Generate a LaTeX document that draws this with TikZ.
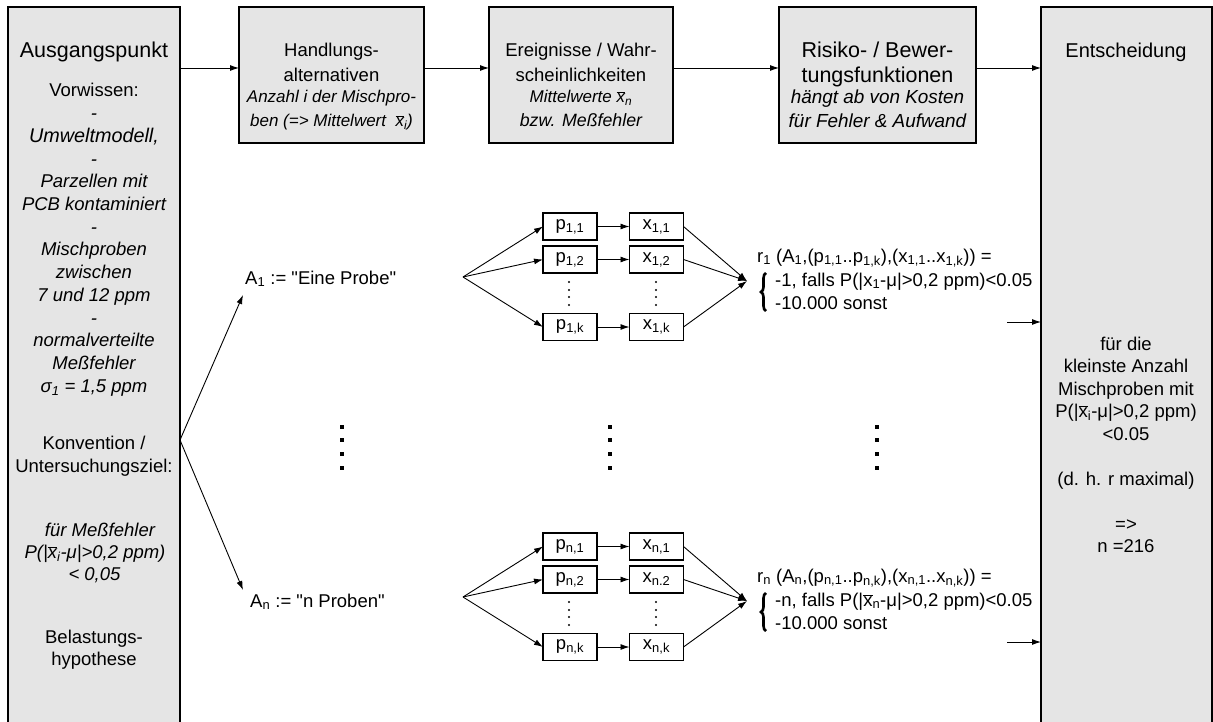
\documentclass[tikz,border=0pt]{standalone}
\usepackage{fontspec}
\setmainfont{Liberation Sans}
\newfontfamily\plainfont{Liberation Sans}
\usetikzlibrary{arrows.meta,decorations.pathreplacing}
\newcommand\xbar{$\overline{\mbox{x}}$}
\newcommand\sbs[1]{\textsubscript{#1}}
\newcommand\qq{{\plainfont"}}
\begin{document}
\begin{tikzpicture}[x=1pt,y=-1pt,
  stage/.style={draw, line width=1.3pt, fill=gray!20, inner sep=0pt, outer sep=0pt, anchor=north west},
  cell/.style={draw, line width=1.4pt, fill=white, minimum width=54pt, minimum height=27pt,
               inner sep=0pt, outer sep=0pt, font=\fontsize{18.5}{20}\selectfont},
  txt/.style={inner sep=0pt, anchor=base, font=\fontsize{18.5}{22}\selectfont},
  itx/.style={txt, font=\fontsize{18.5}{22}\selectfont\itshape},
  subtx/.style={txt, font=\fontsize{17}{20}\selectfont\itshape},
  bigtx/.style={txt, font=\fontsize{21.5}{24}\selectfont},
  bigsub/.style={txt, font=\fontsize{18.9}{22}\selectfont\itshape},
  ltx/.style={txt, anchor=base west},
  arr/.style={-{Latex[length=9pt,width=6pt]}, line width=0.9pt}
]
\useasboundingbox (0,0) rectangle (1213,722);

% stage boxes
\node[stage, minimum width=172, minimum height=730] (start) at (8,7) {};
\node[stage, minimum width=185, minimum height=136] (act) at (239,7) {};
\node[stage, minimum width=184, minimum height=136] (evt) at (489,7) {};
\node[stage, minimum width=197, minimum height=136] (risk) at (779,7) {};
\node[stage, minimum width=171, minimum height=730] (dec) at (1041,7) {};

% chain of stages
\coordinate (lvl) at (0,68);
\draw[arr] (start.east |- lvl) -- (act.west |- lvl);
\draw[arr] (act.east |- lvl) -- (evt.west |- lvl);
\draw[arr] (evt.east |- lvl) -- (risk.west |- lvl);
\draw[arr] (risk.east |- lvl) -- (dec.west |- lvl);

% starting point
\node[bigtx] (k0) at (94,58) {Ausgangspunkt};
\node[txt] (k1) at (94,97) {Vorwissen:};
\node[itx] (k2) at (94,119.7) {-};
\node[itx, font=\fontsize{19.8}{22}\selectfont\itshape] (k3) at (94,142.6) {Umweltmodell,};
\node[itx] (k4) at (94,165.1) {-};
\node[itx] (k5) at (94,187.8) {Parzellen mit};
\node[itx] (k6) at (94,210.5) {PCB kontaminiert};
\node[itx] (k7) at (94,233.2) {-};
\node[itx] (k8) at (94,255.9) {Mischproben};
\node[itx] (k9) at (94,278.6) {zwischen};
\node[itx] (k10) at (94,301.3) {7 und 12 ppm};
\node[itx] (k11) at (94,324) {-};
\node[itx] (k12) at (94,346.7) {normalverteilte};
\node[itx] (k13) at (94,369.4) {Meßfehler};
\node[itx] (k14) at (94,392.1) {σ\sbs{1} = 1,5 ppm};
\node[txt] (k15) at (94,449) {Konvention /};
\node[txt] (k16) at (94,472) {Untersuchungsziel:};
\node[itx] (k17) at (100,536) {für Meßfehler};
\node[itx] (k18) at (95,558) {P(|\xbar\sbs{i}-μ|>0,2 ppm)};
\node[itx] (k19) at (94.5,580) {< 0,05};
\node[txt] (k20) at (94,643) {Belastungs-};
\node[txt] (k21) at (94,665) {hypothese};

% stage headings
\node[txt] (h1) at (331.5,57) {Handlungs-};
\node[txt] (h2) at (331.5,82) {alternativen};
\node[subtx] (h3) at (331.5,103) {Anzahl i der Mischpro-};
\node[subtx] (h4) at (331.5,127) {ben (=> Mittelwert \ \xbar\sbs{i})};
\node[txt] (e1) at (581,57) {Ereignisse / Wahr-};
\node[txt] (e2) at (581,82) {scheinlichkeiten};
\node[subtx] (e3) at (581,103) {Mittelwerte \xbar\sbs{n}};
\node[subtx, font=\fontsize{17.8}{20}\selectfont\itshape] (e4) at (581,127) {bzw. Meßfehler};
\node[bigtx] (f1) at (877.5,58) {Risiko- / Bewer-};
\node[bigtx] (f2) at (877.5,83) {tungsfunktionen};
\node[bigsub] (f3) at (877.5,104) {hängt ab von Kosten};
\node[bigsub] (f4) at (877.5,128) {für Fehler \& Aufwand};
\node[txt, font=\fontsize{20}{22}\selectfont] (d0) at (1126,57.5) {Entscheidung};

% decision
\node[txt] (d1) at (1126,350) {für die};
\node[txt] (d2) at (1126,372.5) {kleinste Anzahl};
\node[txt] (d3) at (1126,395) {Mischproben mit};
\node[txt] (d4) at (1126,417.5) {P(|\xbar\sbs{i}-μ|>0,2 ppm)};
\node[txt] (d5) at (1126,440) {<0.05};
\node[txt] (d6) at (1126,485) {(d. h. r maximal)};
\node[txt] (d7) at (1126,530) {=>};
\node[txt] (d8) at (1126,552.5) {n =216};

% alternatives
\coordinate (fanlvl) at (0,440);
\coordinate (fan) at (start.east |- fanlvl);
\node[ltx] (a1) at (245,284) {A\sbs{1} := \qq Eine Probe\qq};
\node[ltx] (an) at (250,607) {A\sbs{n} := \qq n Proben\qq};
\draw[arr] (fan) -- ([shift={(-2,11)}]a1.base west);
\draw[arr] (fan) -- ([shift={(-7,-17)}]an.base west);

% samples and measurements per alternative
\foreach \r/\dy/\sep in {1/0/{,}, n/320/.} {
  \coordinate (v\r) at (463,277+\dy);
  \node[cell] (p\r a) at (570,226.5+\dy) {p\sbs{\r,1}};
  \node[cell] (p\r b) at (570,259.5+\dy) {p\sbs{\r,2}};
  \node[cell] (p\r k) at (570,327+\dy) {p\sbs{\r,k}};
  \node[cell] (x\r a) at (656.5,226.5+\dy) {x\sbs{\r,1}};
  \node[cell] (x\r b) at (656.5,259.5+\dy) {x\sbs{\r\sep2}};
  \node[cell] (x\r k) at (656.5,327+\dy) {x\sbs{\r,k}};
  \coordinate (m\r) at (747,281+\dy);
  \foreach \c in {a,b,k} {
    \draw[arr] (v\r) -- (p\r\c.west);
    \draw[arr] (p\r\c) -- (x\r\c);
    \draw[arr] (x\r\c.east) -- (m\r);
  }
  \foreach \yy in {282,290,297,305} {
    \fill (569,\yy+\dy) circle (1.1);
    \fill (656,\yy+\dy) circle (1.1);
  }
  \draw[line width=2.6pt, decorate, decoration={brace, amplitude=5pt}] (766,311+\dy) -- (766,273+\dy);
  \coordinate (s\r) at (1007,322+\dy);
  \draw[arr] (s\r) -- (dec.west |- s\r);
}

% risk functions
\node[ltx] (r1) at (757,262) {r\sbs{1} (A\sbs{1},(p\sbs{1,1}..p\sbs{1,k}),(x\sbs{1,1}..x\sbs{1,k})) =};
\node[ltx] (r1a) at (775,286) {-1, falls P(|x\sbs{1}-μ|>0,2 ppm)<0.05};
\node[ltx] (r1b) at (775,309) {-10.000 sonst};
\node[ltx] (rn) at (757,582) {r\sbs{n} (A\sbs{n},(p\sbs{n,1}..p\sbs{n,k}),(x\sbs{n,1}..x\sbs{n,k})) =};
\node[ltx] (rna) at (775,606) {-n, falls P(|\xbar\sbs{n}-μ|>0,2 ppm)<0.05};
\node[ltx] (rnb) at (775,629) {-10.000 sonst};

% further alternatives
\foreach \xx in {342,610,877}
  \foreach \yy in {427,440,454,468}
    \fill (\xx-1.75,\yy-1.75) rectangle ++(3.5,3.5);
\end{tikzpicture}
\end{document}
